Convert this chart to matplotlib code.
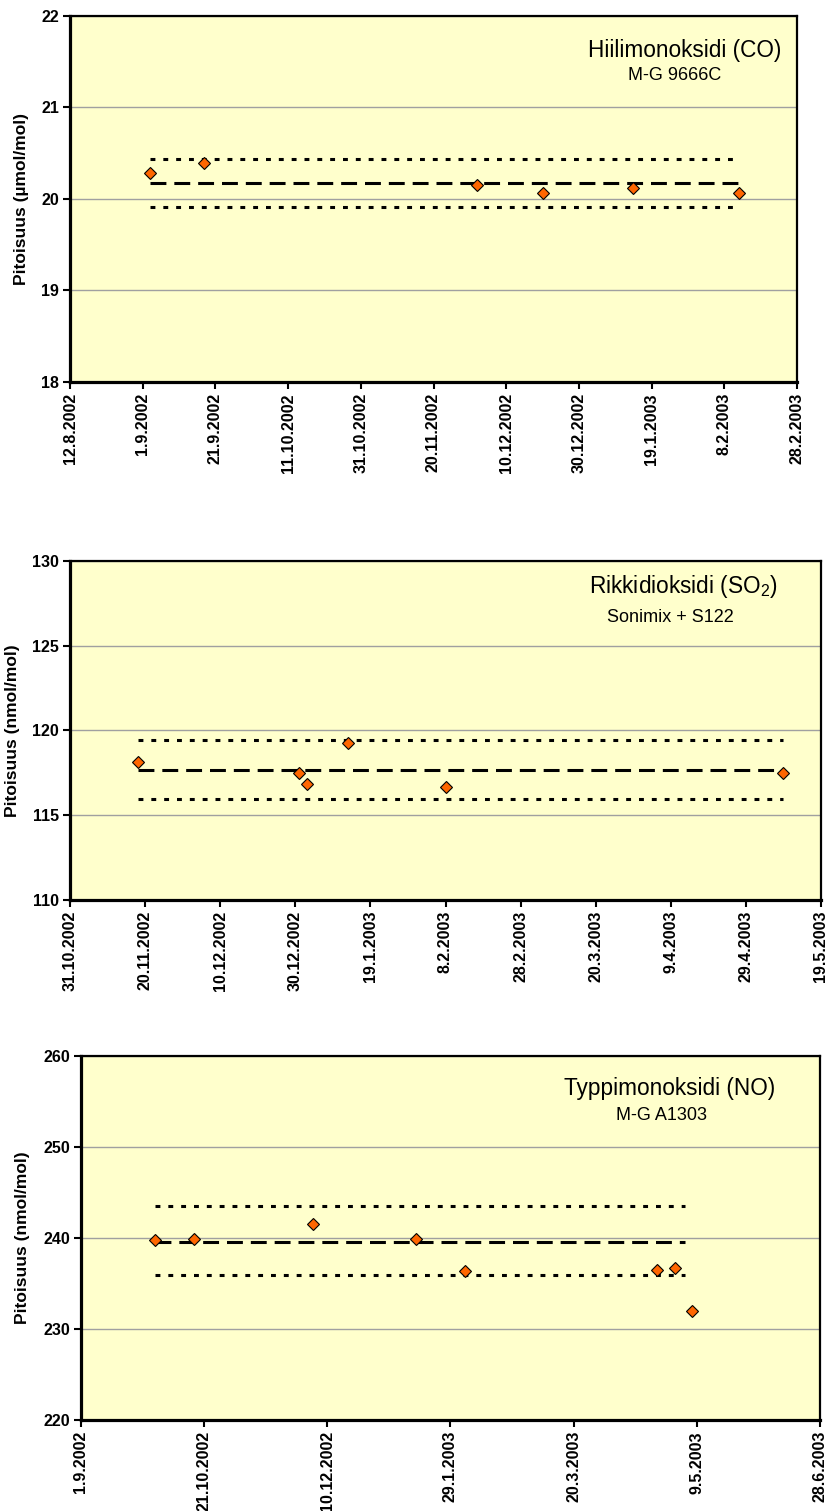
import pandas as pd
import matplotlib
matplotlib.use("Agg")
import matplotlib.pyplot as plt

plt.rcParams['font.family'] = ['Liberation Sans', 'DejaVu Sans']

W, H = 827, 1511

# --- Hiilimonoksidi (CO) ---
co_dates = ["3.9.2002", "18.9.2002", "2.12.2002", "20.12.2002", "14.1.2003", "12.2.2003"]
co_vals = [20.28, 20.39, 20.15, 20.065, 20.12, 20.07]
co_ref = [20.175, 20.44, 19.91]          # keskiarvo, ylaraja, alaraja
co_span = ["3.9.2002", "12.2.2003"]
co_xticks = ["12.8.2002", "1.9.2002", "21.9.2002", "11.10.2002", "31.10.2002", "20.11.2002",
             "10.12.2002", "30.12.2002", "19.1.2003", "8.2.2003", "28.2.2003"]
co_yticks = [18, 19, 20, 21, 22]

# --- Rikkidioksidi (SO2) ---
so2_dates = ["18.11.2002", "31.12.2002", "2.1.2003", "13.1.2003", "8.2.2003", "9.5.2003"]
so2_vals = [118.12, 117.46, 116.8, 119.27, 116.66, 117.49]
so2_ref = [117.65, 119.41, 115.92]
so2_span = ["18.11.2002", "9.5.2003"]
so2_xticks = ["31.10.2002", "20.11.2002", "10.12.2002", "30.12.2002", "19.1.2003", "8.2.2003",
              "28.2.2003", "20.3.2003", "9.4.2003", "29.4.2003", "19.5.2003"]
so2_yticks = [110, 115, 120, 125, 130]

# --- Typpimonoksidi (NO) ---
no_dates = ["1.10.2002", "17.10.2002", "4.12.2002", "15.1.2003", "4.2.2003",
            "23.4.2003", "30.4.2003", "7.5.2003"]
no_vals = [239.75, 239.92, 241.53, 239.92, 236.42, 236.5, 236.68, 231.93]
no_ref = [239.53, 243.5, 235.9]
no_span = ["1.10.2002", "4.5.2003"]
no_xticks = ["1.9.2002", "21.10.2002", "10.12.2002", "29.1.2003", "20.3.2003", "9.5.2003", "28.6.2003"]
no_yticks = [220, 230, 240, 250, 260]

fig = plt.figure(figsize=(W / 100, H / 100), dpi=100)


def d(s):
    return pd.to_datetime(s, format="%d.%m.%Y")


def box(l, t, r, b):
    return [l / W, 1 - b / H, (r - l) / W, (b - t) / H]


def rect_center(rect):
    return H * (1 - rect[1] - rect[3] / 2)


def panel(rect, dates, vals, ref, span, xticks, yticks, ylabel, ylab_x,
          title, title_xy, sub, sub_xy):
    ax = fig.add_axes(rect)
    ax.set_facecolor('#FFFFCC')
    sx = d(span)
    ax.plot(sx, [ref[0], ref[0]], color='black', lw=2.2, dashes=(5.2, 2.6), zorder=2)
    for v in ref[1:]:
        ax.plot(sx, [v, v], color='black', lw=2.2, dashes=(1.6, 2.6), zorder=2)
    ax.plot(d(dates), vals, ls='none', marker='D', ms=6.3, mfc='#FF6600', mec='black',
            mew=0.8, zorder=3)
    xt = d(xticks)
    ax.set_xlim(xt[0], xt[-1])
    ax.set_xticks(xt)
    ax.set_xticklabels(xticks, rotation=90, fontweight='bold', fontsize=11.5)
    ax.set_ylim(yticks[0], yticks[-1])
    ax.set_yticks(yticks)
    ax.set_yticklabels([str(v) for v in yticks], fontweight='bold', fontsize=11.5)
    ax.yaxis.grid(True, color='#a0a0a0', lw=1)
    ax.set_axisbelow(True)
    ax.tick_params(axis='both', direction='out', length=5, width=1.5, pad=3)
    for s in ['left', 'bottom']:
        ax.spines[s].set_linewidth(2.3)
    for s in ['top', 'right']:
        ax.spines[s].set_linewidth(1.6)
    fig.text(ylab_x / W, 1 - rect_center(rect) / H, ylabel, rotation=90,
             ha='center', va='center', fontsize=12.5, fontweight='bold')
    fig.text(title_xy[0] / W, 1 - title_xy[1] / H, title, ha='right', va='center', fontsize=16.3)
    fig.text(sub_xy[0] / W, 1 - sub_xy[1] / H, sub, ha='center', va='center', fontsize=13)
    return ax


panel(box(70, 16, 797, 382), co_dates, co_vals, co_ref, co_span, co_xticks, co_yticks,
      "Pitoisuus (µmol/mol)", 22, "Hiilimonoksidi (CO)", (781, 51), "M-G 9666C", (675, 76))
panel(box(70, 561, 821, 899.5), so2_dates, so2_vals, so2_ref, so2_span, so2_xticks, so2_yticks,
      "Pitoisuus (nmol/mol)", 13, r"Rikkidioksidi (SO$_\mathregular{2}$)", (778, 587),
      "Sonimix + S122", (670, 618))
panel(box(81, 1056, 820, 1420), no_dates, no_vals, no_ref, no_span, no_xticks, no_yticks,
      "Pitoisuus (nmol/mol)", 23, "Typpimonoksidi (NO)", (775, 1088), "M-G A1303", (662, 1116))

fig.savefig("out.png", dpi=100)
